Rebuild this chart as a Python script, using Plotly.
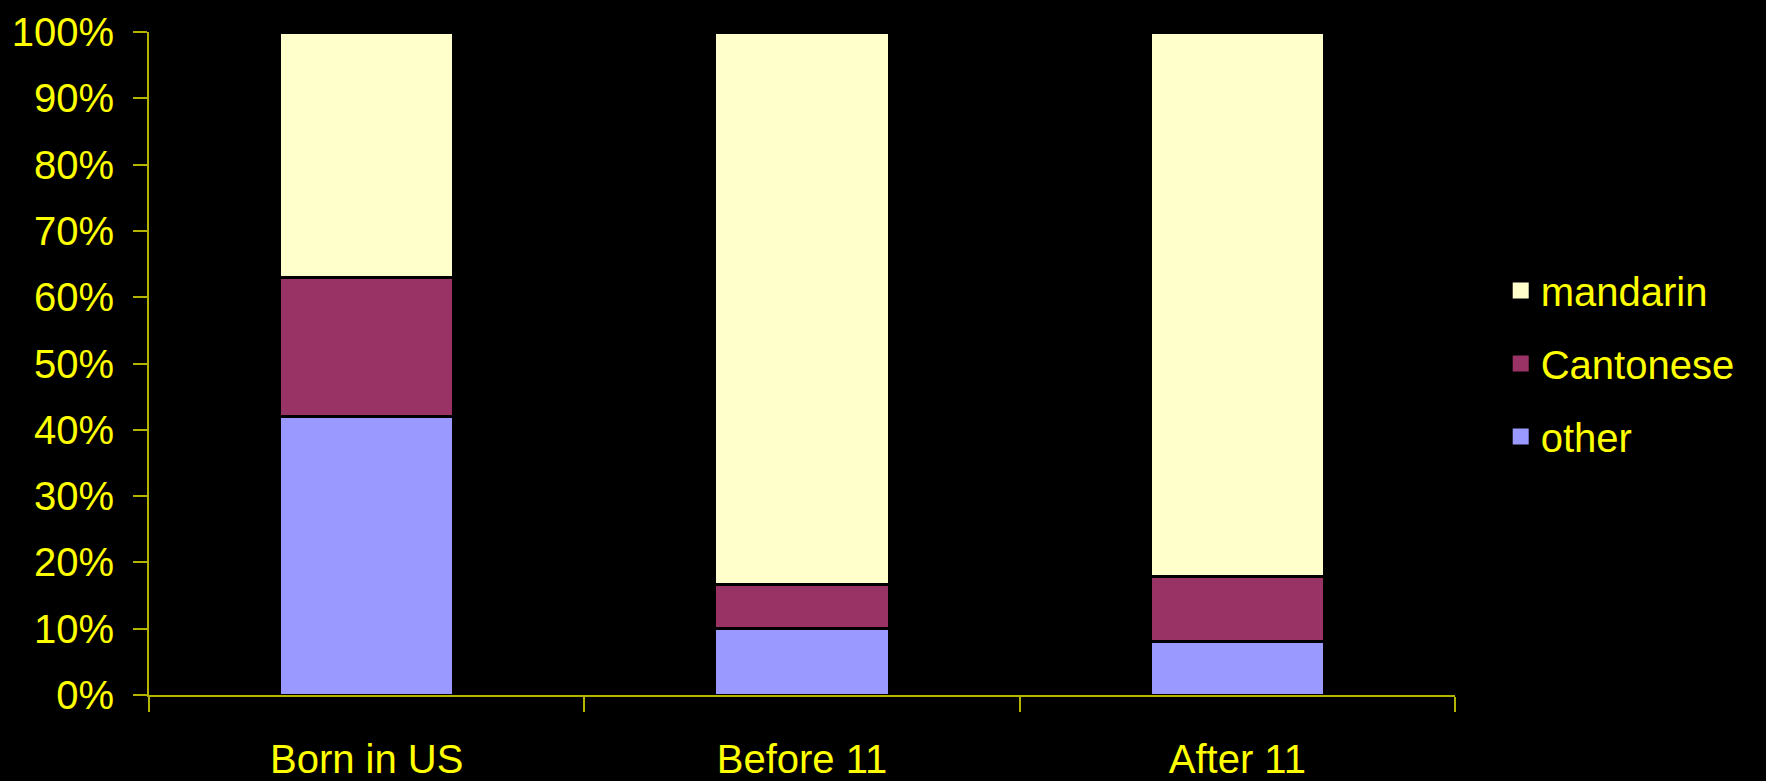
import plotly.graph_objects as go

categories = ["Born in US", "Before 11", "After 11"]
other = [42.0, 10.0, 8.1]
cantonese = [21.0, 6.7, 9.7]
mandarin = [37.0, 83.3, 82.2]

series_names = ["other", "Cantonese", "mandarin"]
series_values = [other, cantonese, mandarin]
series_colors = ["#9999FF", "#993366", "#FFFFCC"]

y_tickvals = list(range(0, 101, 10))
y_ticktext = [f"{v}%" for v in y_tickvals]

FONT = "Liberation Sans, Arial, sans-serif"
YEL = "#FFFF00"
AXC = "#B4B400"

fig = go.Figure()
for name, vals, col in zip(series_names, series_values, series_colors):
    fig.add_trace(go.Bar(
        x=categories, y=vals, name=name, legendgroup=name,
        marker=dict(color=col, line=dict(color="#000000", width=3)),
        hoverinfo="x+y+name", showlegend=False,
    ))

# legend entries (larger square swatches), top to bottom: mandarin, Cantonese, other
for name, col in reversed(list(zip(series_names, series_colors))):
    fig.add_trace(go.Scatter(
        x=[None], y=[None], mode="markers", name=name, legendgroup=name,
        marker=dict(symbol="square", size=20, color=col, line=dict(width=0)),
        showlegend=True, hoverinfo="skip",
    ))

fig.update_layout(
    width=1766, height=781,
    barmode="stack", bargap=0.6,
    paper_bgcolor="#000000", plot_bgcolor="#000000",
    margin=dict(l=149, r=311, t=32, b=86, autoexpand=False),
    font=dict(family=FONT, color=YEL, size=40),
    showlegend=True,
    legend=dict(
        x=1.035, xanchor="left", y=0.5, yanchor="middle",
        traceorder="grouped", tracegroupgap=18,
        font=dict(family=FONT, color=YEL, size=40),
        bgcolor="rgba(0,0,0,0)", itemsizing="trace",
    ),
    xaxis=dict(
        showgrid=False, zeroline=False, automargin=False,
        showline=True, linecolor=AXC, linewidth=2,
        ticks="outside", tickson="boundaries", ticklen=15, tickcolor=AXC, tickwidth=1.5,
        tickfont=dict(family=FONT, color=YEL, size=40),
        ticklabelstandoff=28,
    ),
    yaxis=dict(
        range=[0, 100], showgrid=False, zeroline=False, automargin=False,
        showline=True, linecolor=AXC, linewidth=2,
        ticks="outside", ticklen=14, tickcolor=AXC, tickwidth=1.5,
        tickvals=y_tickvals, ticktext=y_ticktext,
        tickfont=dict(family=FONT, color=YEL, size=40),
        ticklabelstandoff=11,
    ),
)

fig.write_html(
    "out.html",
    config={"displayModeBar": False},
    post_script="document.body.style.margin='0';document.body.style.background='#000';",
)
